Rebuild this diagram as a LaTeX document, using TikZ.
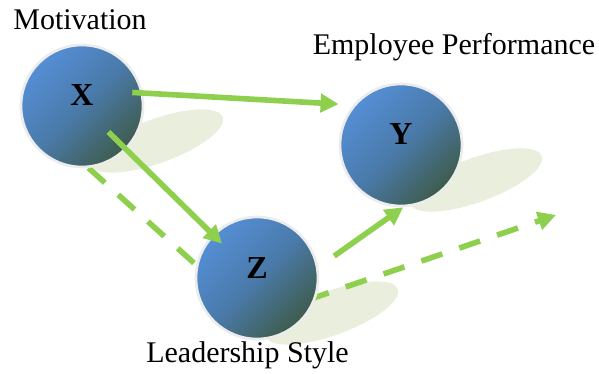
\documentclass[tikz,border=0pt]{standalone}
\usepackage{fontspec}
\setmainfont{Liberation Serif}
\usepackage{xcolor}
\usetikzlibrary{arrows.meta, calc}
\definecolor{linkgreen}{RGB}{142,208,78}
\definecolor{glowolive}{RGB}{233,238,221}
\definecolor{ringgray}{RGB}{236,236,236}
\definecolor{ballblue}{RGB}{84,142,212}
\definecolor{ballmid}{RGB}{74,122,170}
\definecolor{balldark}{RGB}{62,92,76}
\pgfdeclarelayer{shade}
\pgfdeclarelayer{under}
\pgfsetlayers{shade,under,main}

\begin{document}
\begin{tikzpicture}[
    x=0.75pt, y=-0.75pt,
    var/.style={circle, draw=ringgray, line width=2pt, minimum size=91.5pt, inner sep=0pt,
        top color=ballblue, bottom color=balldark, middle color=ballmid, shading angle=45,
        font=\bfseries\fontsize{24}{24}\selectfont, text height=8pt, text depth=8pt},
    caption/.style={anchor=base, font=\fontsize{22.5}{27}\selectfont},
    glow/.style={fill=glowolive},
    arrow/.style={-{Triangle[length=13.5pt,width=13.5pt]}, draw=linkgreen, line width=4.2pt},
    dasharrow/.style={arrow, dash pattern=on 16.5pt off 13.5pt}
]
\useasboundingbox (0,0) rectangle (599,374);

\node[var] (X) at (82,106) {X};
\node[var] (Y) at (401,145) {Y};
\node[var] (Z) at (257,278) {Z};

\node[caption] (motiv) at (80,30) {Motivation};
\node[caption] (perf) at (454,55) {Employee Performance};
\node[caption] (lead) at (247.5,362) {Leadership Style};

\coordinate (bend) at (255,318);
\coordinate (out) at (556,215);

% shadows under the balls
\begin{pgfonlayer}{shade}
\foreach \v in {X,Y,Z} {
    \path (\v.center) ++(75,35) coordinate (\v s);
    \fill[glow, rotate around={20:(\v s)}] (\v s) ellipse [x radius=70, y radius=22];
}
\end{pgfonlayer}

% indirect path, hidden behind Z
\begin{pgfonlayer}{under}
\draw[dasharrow] (X.-84) -- (bend) -- (out);
\end{pgfonlayer}

\draw[arrow, shorten <=-8pt, shorten >=11pt] (X.12) -- (Y.140);
\draw[arrow, shorten <=27.75pt, shorten >=36.75pt] (X.center) -- (Z.center);
\draw[arrow, shorten <=14.5pt] (Z.10) -- (Y.-88);

\end{tikzpicture}
\end{document}
